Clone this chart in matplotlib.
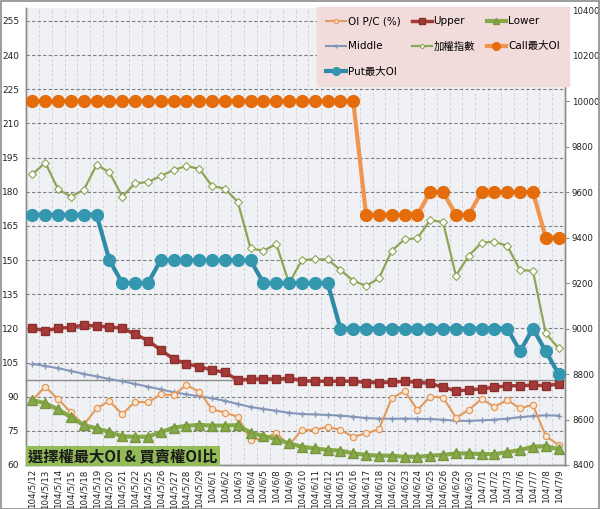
import matplotlib
matplotlib.use("Agg")
import matplotlib.pyplot as plt
from matplotlib.patches import Rectangle

plt.rcParams['font.family'] = ['DejaVu Sans', 'Noto Sans CJK TC']

dates = ['104/5/12', '104/5/13', '104/5/14', '104/5/15', '104/5/18', '104/5/19', '104/5/20',
         '104/5/21', '104/5/22', '104/5/25', '104/5/26', '104/5/27', '104/5/28', '104/5/29',
         '104/6/1', '104/6/2', '104/6/3', '104/6/4', '104/6/5', '104/6/8', '104/6/9',
         '104/6/10', '104/6/11', '104/6/12', '104/6/15', '104/6/16', '104/6/17', '104/6/18',
         '104/6/22', '104/6/23', '104/6/24', '104/6/25', '104/6/26', '104/6/29', '104/6/30',
         '104/7/1', '104/7/2', '104/7/3', '104/7/6', '104/7/7', '104/7/8', '104/7/9']

oi_pc = [88.5, 94.4, 88.9, 83.1, 77.6, 84.9, 88.1, 82.3, 87.8, 87.5,
         91.0, 90.7, 95.1, 92.2, 84.5, 83.0, 81.2, 71.0, 71.7, 73.9,
         68.8, 75.4, 75.4, 76.8, 75.4, 72.4, 73.9, 75.7, 89.3, 92.5,
         84.2, 90.0, 89.6, 80.8, 84.2, 89.0, 85.6, 88.5, 84.9, 86.4,
         72.7, 68.8]

upper = [120.0, 119.0, 120.0, 120.5, 121.4, 121.0, 120.7, 120.0, 117.5, 114.6,
         110.5, 106.6, 104.4, 103.2, 101.7, 100.7, 97.3, 97.6, 97.9, 97.6,
         98.2, 97.0, 96.8, 96.8, 96.8, 96.8, 96.2, 96.2, 96.3, 96.8,
         96.2, 95.9, 94.1, 92.6, 92.9, 93.5, 94.1, 94.8, 94.8, 95.1,
         94.8, 95.6]

lower = [88.5, 87.1, 84.4, 81.0, 77.5, 76.1, 74.5, 72.6, 72.4, 72.4,
         74.4, 76.4, 77.2, 77.6, 77.3, 77.3, 77.5, 74.2, 72.7, 71.4,
         69.5, 68.0, 67.3, 66.6, 66.3, 65.1, 64.4, 64.1, 64.1, 63.6,
         63.6, 64.1, 64.4, 65.1, 65.1, 64.8, 64.8, 65.6, 66.6, 68.0,
         68.3, 66.9]

middle = [104.4, 103.5, 102.5, 101.3, 100.0, 98.9, 97.8, 96.8, 95.6, 94.4,
          93.2, 92.0, 91.0, 90.2, 89.3, 88.2, 86.8, 85.5, 84.6, 83.8,
          82.9, 82.4, 82.2, 82.0, 81.7, 81.2, 80.6, 80.4, 80.3, 80.4,
          80.3, 80.2, 79.9, 79.4, 79.4, 79.6, 79.9, 80.4, 81.0, 81.5,
          81.8, 81.7]

taiex = [9678, 9729, 9612, 9580, 9609, 9719, 9687, 9580, 9638, 9644,
         9670, 9697, 9714, 9702, 9626, 9615, 9556, 9352, 9342, 9371,
         9199, 9301, 9304, 9304, 9257, 9210, 9188, 9220, 9342, 9392,
         9397, 9477, 9467, 9232, 9320, 9377, 9382, 9363, 9257, 9253,
         8979, 8913]

call_max = [10000, 10000, 10000, 10000, 10000, 10000, 10000, 10000, 10000, 10000,
            10000, 10000, 10000, 10000, 10000, 10000, 10000, 10000, 10000, 10000,
            10000, 10000, 10000, 10000, 10000, 10000, 9500, 9500, 9500, 9500,
            9500, 9600, 9600, 9500, 9500, 9600, 9600, 9600, 9600, 9600,
            9400, 9400]

put_max = [9500, 9500, 9500, 9500, 9500, 9500, 9300, 9200, 9200, 9200,
           9300, 9300, 9300, 9300, 9300, 9300, 9300, 9300, 9200, 9200,
           9200, 9200, 9200, 9200, 9000, 9000, 9000, 9000, 9000, 9000,
           9000, 9000, 9000, 9000, 9000, 9000, 9000, 9000, 8900, 9000,
           8900, 8800]

left_ticks = [60, 75, 90, 105, 120, 135, 150, 165, 180, 195, 210, 225, 240, 255]
right_ticks = [8400, 8600, 8800, 9000, 9200, 9400, 9600, 9800, 10000, 10200, 10400]
title_text = '選擇權最大OI & 買賣權OI比'

W, H = 600, 509
fig = plt.figure(figsize=(W / 100, H / 100), dpi=100)
fig.patch.set_facecolor('white')
L, R, T, B = 26, 565, 8, 465
ax = fig.add_axes([L / W, 1 - B / H, (R - L) / W, (B - T) / H])
ax.set_facecolor('#F0F1F4')
x = list(range(len(dates)))

ax.set_xlim(-0.5, len(dates) - 0.5)
ax.set_ylim(60, 260.7)
ax.set_yticks(left_ticks)
for v in left_ticks[1:]:
    ax.axhline(v, color='#7F7F7F', lw=0.8, ls=(0, (3, 2)), zorder=0.5)
for i in range(len(dates) - 1):
    ax.axvline(i + 0.5, color='#D2D4DA', lw=0.7, ls=(0, (3, 2)), zorder=0.4)
ax.axhline(97.3, color='#8C8C8C', lw=1.0, zorder=0.6)

ax.set_xticks(x)
ax.set_xticklabels(dates, rotation=90, fontsize=6.3, color='#222222')
ax.tick_params(axis='x', length=0, pad=3)
ax.tick_params(axis='y', labelsize=6.5, colors='#222222', length=0, pad=5)

l_oi, = ax.plot(x, oi_pc, color='#E39A5A', lw=1.5, marker='o', ms=4.5,
                mfc='#FBE5D3', mec='#E39A5A', mew=0.9, zorder=3, label='OI P/C (%)')
l_mid, = ax.plot(x, middle, color='#8497B8', lw=1.5, marker='+', ms=5,
                 mec='#8497B8', mew=1.0, zorder=2.5, label='Middle')
l_up, = ax.plot(x, upper, color='#A33A38', lw=2.5, marker='s', ms=6,
                mfc='#A33A38', mec='#8B2E2C', zorder=3, label='Upper')
l_lo, = ax.plot(x, lower, color='#86A948', lw=3, marker='^', ms=6.5,
                mfc='#86A948', mec='#77963E', zorder=3.2, label='Lower')

ax2 = ax.twinx()
ax2.set_ylim(8400, 10408.8)
ax2.set_yticks(right_ticks)
ax2.tick_params(axis='y', labelsize=6.2, labelcolor='#222222', length=3, pad=2,
                color='#8C8C8C')
l_tx, = ax2.plot(x, taiex, color='#8BA656', lw=1.6, marker='D', ms=3.8,
                 mfc='white', mec='#8BA656', mew=0.8, zorder=3, label='加權指數')
l_call, = ax2.plot(x, call_max, color='#F0954E', lw=3, marker='o', ms=8.5,
                   mfc='#E46C0A', mec='#E46C0A', zorder=4, label='Call最大OI')
l_put, = ax2.plot(x, put_max, color='#2E8AA6', lw=3, marker='o', ms=8.5,
                  mfc='#3596B0', mec='#3596B0', zorder=4, label='Put最大OI')

for a in (ax, ax2):
    for s in a.spines.values():
        s.set_color('#8C8C8C')
        s.set_linewidth(1.0)
    a.spines['top'].set_visible(False)

handles = [l_oi, l_mid, l_put, l_up, l_tx, l_lo, l_call]
leg = ax2.legend(handles=handles, loc='upper left', ncol=3,
                 bbox_to_anchor=(317 / W, 1 - 83 / H, 252 / W, 76 / H),
                 bbox_transform=fig.transFigure, mode='expand',
                 fontsize=7.5, frameon=True, fancybox=False, handlelength=1.9,
                 handletextpad=0.15, columnspacing=0.6, labelspacing=1.45,
                 borderpad=0.9, markerscale=0.65, borderaxespad=0)
leg.get_frame().set_facecolor('#F2DCDB')
leg.get_frame().set_edgecolor('#F2DCDB')
leg.get_frame().set_alpha(1)
leg.set_zorder(10)

fig.text(28 / W, 1 - 456 / H, title_text, fontsize=11, fontweight='bold',
         family=['Noto Sans CJK TC', 'DejaVu Sans'], color='#1A1A1A',
         va='center', ha='left', zorder=20,
         bbox=dict(boxstyle='square,pad=0.15', facecolor='#93BB58', edgecolor='none'))

fig.patches.append(Rectangle((0.5 / W, 0.5 / H), 1 - 1.5 / W, 1 - 1.5 / H,
                             transform=fig.transFigure, fill=False,
                             edgecolor='#8C8C8C', lw=1.2, zorder=30))

fig.savefig('out.png', dpi=100)
